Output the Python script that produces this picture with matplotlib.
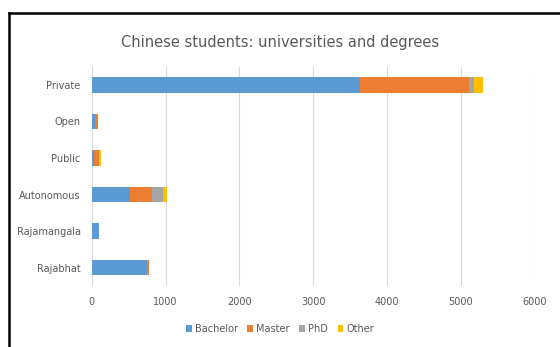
import numpy as np
import matplotlib.pyplot as plt
from matplotlib.lines import Line2D

# Données
categories = ["Private", "Open", "Public", "Autonomous", "Rajamangala", "Rajabhat"]
bachelor = [3630, 40, 30, 520, 95, 745]
master = [1480, 40, 70, 295, 0, 30]
phd = [70, 0, 0, 145, 0, 0]
other = [120, 0, 20, 55, 0, 0]
xticks = [0, 1000, 2000, 3000, 4000, 5000, 6000]

series = [("Bachelor", bachelor, "#5b9bd5"),
          ("Master", master, "#ed7d31"),
          ("PhD", phd, "#a5a5a5"),
          ("Other", other, "#ffc000")]

txt = "#595959"
fig = plt.figure(figsize=(5.6, 3.47), dpi=100)
ax = fig.add_axes([0.164, 0.176, 0.791, 0.632])

y = np.arange(len(categories))[::-1]
left = np.zeros(len(categories))
for name, vals, col in series:
    vals = np.array(vals, dtype=float)
    ax.barh(y, vals, left=left, height=0.42, color=col, label=name, zorder=3)
    left += vals

ax.set_xlim(0, 6000)
ax.set_ylim(-0.5, len(categories) - 0.5)
ax.set_xticks(xticks)
ax.set_xticklabels([str(t) for t in xticks], fontsize=7, color=txt)
ax.set_yticks(y)
ax.set_yticklabels(categories, fontsize=7, color=txt)
ax.tick_params(length=0, pad=8)
ax.tick_params(axis="x", pad=8)
ax.grid(axis="x", color="#d9d9d9", lw=0.8, zorder=0)
for s in ax.spines.values():
    s.set_visible(False)

fig.text(0.5, 0.877, "Chinese students: universities and degrees",
         ha="center", va="center", fontsize=10.5, color=txt)

leg = fig.legend(loc="center", bbox_to_anchor=(0.5, 0.052), ncol=4, frameon=False,
                 fontsize=7, handlelength=0.6, handleheight=0.6, handletextpad=0.3,
                 columnspacing=1.0)
for t in leg.get_texts():
    t.set_color(txt)

# cadre noir en haut et à gauche
fig.add_artist(Line2D([9 / 560, 1], [1 - 13 / 347, 1 - 13 / 347], color="black", lw=1.8,
                      transform=fig.transFigure))
fig.add_artist(Line2D([9 / 560, 9 / 560], [0, 1 - 13 / 347], color="black", lw=1.8,
                      transform=fig.transFigure))

fig.savefig("out.png", dpi=100)
